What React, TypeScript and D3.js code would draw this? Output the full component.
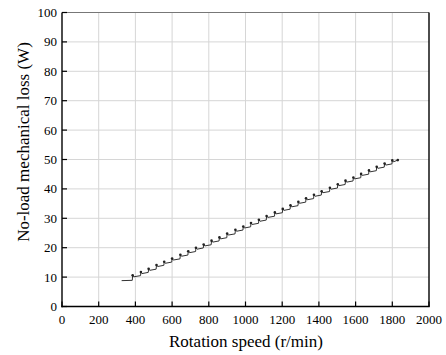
import React from "react";
import * as d3 from "d3";

const xTicks = [0, 200, 400, 600, 800, 1000, 1200, 1400, 1600, 1800, 2000];
const yTicks = [0, 10, 20, 30, 40, 50, 60, 70, 80, 90, 100];

const speed = [
  325, 383,
  385, 391, 428, 430, 436, 470, 472, 478, 513, 515, 521, 555, 557, 563, 598,
  600, 606, 643, 645, 651, 686, 688, 694, 728, 730, 736, 770, 772, 778, 813,
  815, 821, 856, 858, 864, 898, 900, 906, 943, 945, 951, 986, 988, 994, 1028,
  1030, 1036, 1071, 1073, 1079, 1113, 1115, 1121, 1158, 1160, 1166, 1201,
  1203, 1209, 1243, 1245, 1251, 1286, 1288, 1294, 1328, 1330, 1336, 1371,
  1373, 1379, 1413, 1415, 1421, 1458, 1460, 1466, 1501, 1503, 1509, 1543,
  1545, 1551, 1586, 1588, 1594, 1628, 1630, 1636, 1671, 1673, 1679, 1713,
  1715, 1721, 1756, 1758, 1764, 1798, 1800, 1806, 1830, 1832,
];
const loss = [
  8.8, 8.9,
  10.6, 10.1, 10.5, 11.7, 11.2, 11.6, 12.8, 12.3, 12.7, 14.1, 13.6, 14.0, 15.2, 14.7, 15.1,
  16.3, 15.8, 16.2, 17.6, 17.1, 17.5, 18.8, 18.3, 18.7, 20.0, 19.5, 19.9, 21.1, 20.6, 21.0,
  22.4, 21.9, 22.3, 23.5, 23.0, 23.4, 24.8, 24.3, 24.7, 26.1, 25.6, 26.0, 27.2, 26.7, 27.1,
  28.4, 27.9, 28.3, 29.5, 29.0, 29.4, 30.8, 30.3, 30.7, 32.0, 31.5, 31.9,
  33.2, 32.7, 33.1, 34.4, 33.9, 34.3, 35.6, 35.1, 35.5, 36.8, 36.3, 36.7,
  38.0, 37.5, 37.9, 39.2, 38.7, 39.1, 40.4, 39.9, 40.3, 41.6, 41.1, 41.5,
  42.8, 42.3, 42.7, 43.9, 43.4, 43.8, 45.1, 44.6, 45.0, 46.3, 45.8, 46.2,
  47.5, 47.0, 47.4, 48.6, 48.1, 48.5, 49.7, 49.2, 49.8, 49.9,
];
const stepSpeed = [385, 430, 472, 515, 557, 600, 645, 688, 730, 772, 815, 858, 900, 945, 988, 1030, 1073, 1115, 1160, 1203, 1245, 1288, 1330, 1373, 1415, 1460, 1503, 1545, 1588, 1630, 1673, 1715, 1758, 1800, 1830];
const stepLoss = [10.6, 11.7, 12.8, 14.1, 15.2, 16.3, 17.6, 18.8, 20.0, 21.1, 22.4, 23.5, 24.8, 26.1, 27.2, 28.4, 29.5, 30.8, 32.0, 33.2, 34.4, 35.6, 36.8, 38.0, 39.2, 40.4, 41.6, 42.8, 43.9, 45.1, 46.3, 47.5, 48.6, 49.7, 49.8];

const L = 62, R = 429, T = 12.5, B = 306.5;

export default function App() {
  const x = d3.scaleLinear().domain([0, 2000]).range([L, R]);
  const y = d3.scaleLinear().domain([0, 100]).range([B, T]);
  const pts = speed.map((s, i) => [s, loss[i]] as [number, number]);
  const line = d3.line<[number, number]>().x(d => x(d[0])).y(d => y(d[1]));
  const ts = { fontFamily: "Liberation Serif" } as React.CSSProperties;
  return (
    <svg width={446} height={355} style={{ position: "absolute", left: 0, top: 0, background: "#fff" }}>
      <rect x={0} y={0} width={446} height={355} fill="#fff" />
      {xTicks.slice(1, -1).map(t => (
        <line key={"gx" + t} x1={x(t)} x2={x(t)} y1={T} y2={B} stroke="#d6d6d6" strokeWidth={1} />
      ))}
      {yTicks.slice(1, -1).map(t => (
        <line key={"gy" + t} x1={L} x2={R} y1={y(t)} y2={y(t)} stroke="#d6d6d6" strokeWidth={1} />
      ))}
      <line x1={L} x2={R} y1={T} y2={T} stroke="#777" strokeWidth={1.2} />
      <line x1={R} x2={R} y1={T} y2={B} stroke="#000" strokeWidth={1.4} />
      <line x1={L} x2={L} y1={T} y2={B + 0.7} stroke="#000" strokeWidth={1.4} />
      <line x1={L - 0.7} x2={R + 0.7} y1={B} y2={B} stroke="#000" strokeWidth={1.4} />
      {xTicks.map(t => (
        <g key={"xt" + t}>
          <line x1={x(t)} x2={x(t)} y1={B} y2={B - 5} stroke="#000" strokeWidth={1.2} />
          <text x={x(t)} y={324} textAnchor="middle" style={ts} fontSize={13} fill="#000">{t}</text>
        </g>
      ))}
      {yTicks.map(t => (
        <g key={"yt" + t}>
          <line x1={L} x2={L + 5} y1={y(t)} y2={y(t)} stroke="#000" strokeWidth={1.2} />
          <text x={57} y={y(t) + 4.5} textAnchor="end" style={ts} fontSize={13} fill="#000">{t}</text>
        </g>
      ))}
      <path d={line(pts) || ""} fill="none" stroke="#333" strokeWidth={1} />
      {stepSpeed.map((s, i) => (
        <circle key={"m" + i} cx={x(s)} cy={y(stepLoss[i])} r={1.3} fill="#222" />
      ))}
      <text x={246} y={347} textAnchor="middle" style={ts} fontSize={17} fill="#000">Rotation speed (r/min)</text>
      <text transform="translate(29,142) rotate(-90)" textAnchor="middle" style={ts} fontSize={17} fill="#000">No-load mechanical loss (W)</text>
    </svg>
  );
}
